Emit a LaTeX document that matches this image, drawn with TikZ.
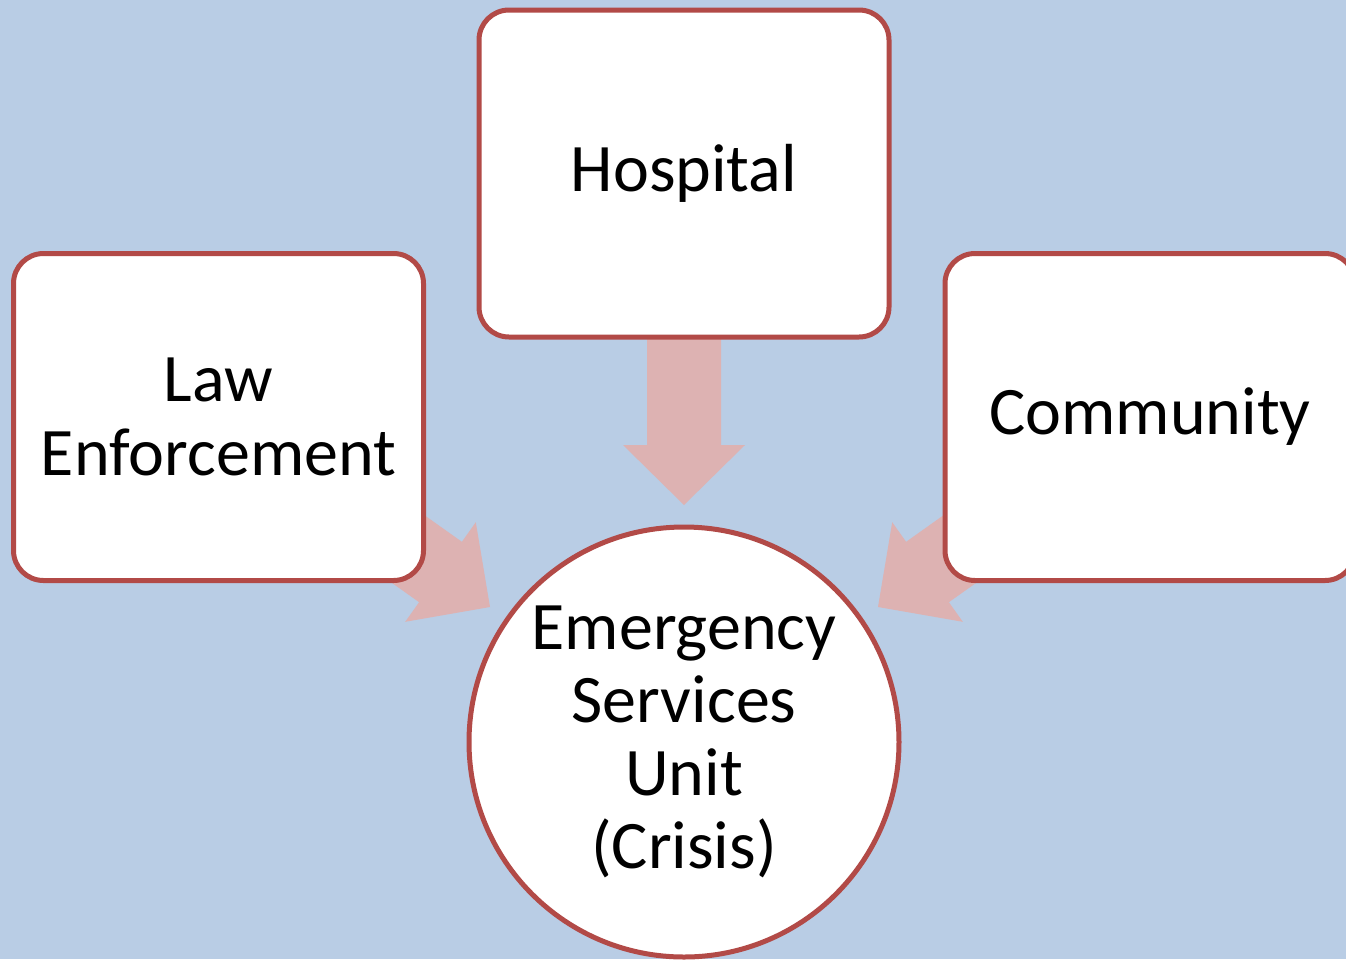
\documentclass[tikz,border=0pt]{standalone}
\usepackage{fontspec}
\setmainfont{Carlito}
\definecolor{bgblue}{HTML}{B9CDE5}
\definecolor{edgered}{HTML}{B24A47}
\definecolor{arrowpink}{HTML}{DDB2B2}
\tikzset{
  box/.style={draw=edgered, line width=5pt, fill=white, rounded corners=30pt,
    minimum width=410pt, minimum height=327pt, inner sep=0pt, align=center,
    font=\fontsize{68}{74}\selectfont},
  hub/.style={draw=edgered, line width=5pt, fill=white, circle, minimum size=430pt,
    inner sep=0pt, align=center, font=\fontsize{68}{73}\selectfont},
  blockarrow/.style={fill=arrowpink, draw=none}
}
\begin{document}
\begin{tikzpicture}[x=1pt,y=-1pt]
\useasboundingbox (0,0) rectangle (1346,959);
\clip (0,0) rectangle (1346,959);
\fill[bgblue] (0,0) rectangle (1346,959);
% block arrows (drawn first, boxes cover their tails)
\fill[blockarrow] (647,300) -- (721,300) -- (721,445) -- (745,445) -- (684,505)
  -- (623,445) -- (647,445) -- cycle;
\fill[blockarrow] (339.4,454.8) -- (461.9,541.8) -- (475.8,522.2) -- (490,607)
  -- (405.2,621.8) -- (419.1,602.2) -- (296.6,515.2) -- cycle;
\fill[blockarrow] (1028.6,454.8) -- (906.1,541.8) -- (892.2,522.2) -- (878,607)
  -- (962.8,621.8) -- (948.9,602.2) -- (1071.4,515.2) -- cycle;
% nodes
\node[box] (hospital) at (684,173.5) {Hospital};
\node[box] (law) at (218.5,417) {Law\\Enforcement};
\node[box] (community) at (1150,417) {Community};
\node[hub] (esu) at (684,742) {Emergency\\Services\\Unit\\(Crisis)};
\end{tikzpicture}
\end{document}
